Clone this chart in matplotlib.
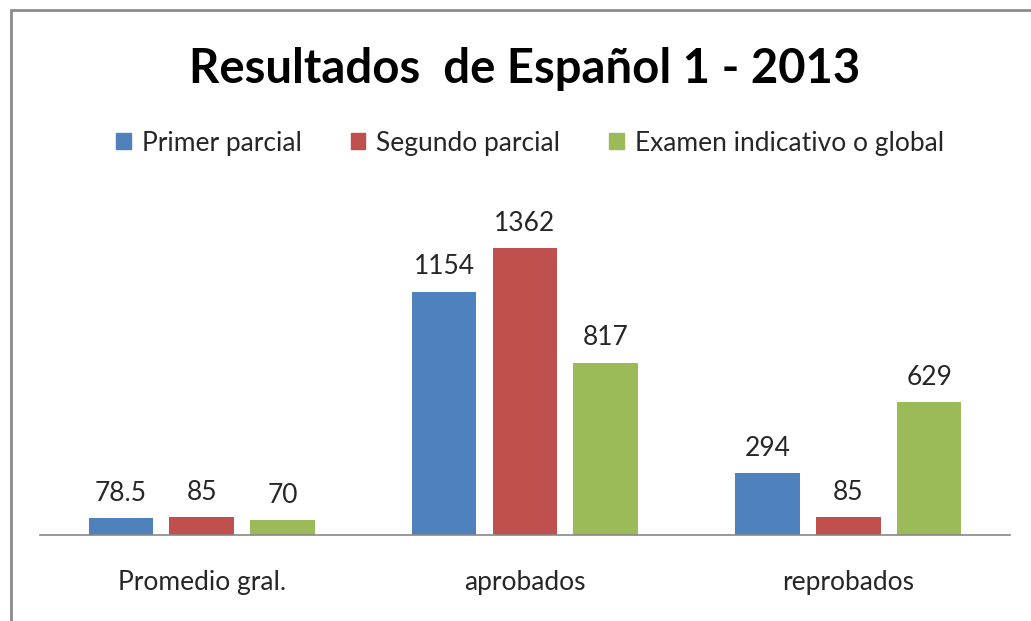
import matplotlib
matplotlib.use("Agg")
import matplotlib.pyplot as plt
import matplotlib.patches as mpatches
import numpy as np

categories = ["Promedio gral.", "aprobados", "reprobados"]
series_names = ["Primer parcial", "Segundo parcial", "Examen indicativo o global"]
primer = [78.5, 1154, 294]
segundo = [85, 1362, 85]
examen = [70, 817, 629]
labels_primer = ["78.5", "1154", "294"]
labels_segundo = ["85", "1362", "85"]
labels_examen = ["70", "817", "629"]

colors = ["#4F81BD", "#C0504D", "#9BBB59"]
plt.rcParams['font.family'] = ['Lato', 'DejaVu Sans']

W, H = 1031, 621
fig = plt.figure(figsize=(W / 100, H / 100), dpi=100)

# axes: x from 40 to 1010 px, baseline at y=535, top at y=200
ax = fig.add_axes([40 / W, (H - 535) / H, 970 / W, 335 / H])
x = np.arange(len(categories))
width = 0.2
offs = [-0.25, 0, 0.25]
all_series = [primer, segundo, examen]
all_labels = [labels_primer, labels_segundo, labels_examen]
for i, (vals, labs) in enumerate(zip(all_series, all_labels)):
    bars = ax.bar(x + offs[i], vals, width, color=colors[i], label=series_names[i])
    for b, lab in zip(bars, labs):
        ax.annotate(lab, (b.get_x() + b.get_width() / 2, b.get_height()),
                    xytext=(0, 9), textcoords="offset points",
                    ha="center", va="bottom", fontsize=19, color="#262626")

ax.set_xlim(-0.5, 2.5)
ax.set_ylim(0, 1590)
for s in ["top", "right", "left"]:
    ax.spines[s].set_visible(False)
ax.spines["bottom"].set_color("#888888")
ax.spines["bottom"].set_linewidth(1.2)
ax.set_yticks([])
ax.set_xticks(x)
ax.set_xticklabels(categories, fontsize=19, color="#262626")
ax.tick_params(axis="x", length=0, pad=25)

fig.text(525 / W, 1 - 69 / H, "Resultados  de Español 1 - 2013", ha="center", va="center",
         fontsize=34, fontweight="bold", color="black")

handles = [mpatches.Patch(color=c, label=n) for c, n in zip(colors, series_names)]
fig.legend(handles=handles, loc="center", bbox_to_anchor=(530 / W, 1 - 143 / H), ncol=3,
           frameon=False, fontsize=19, handlelength=0.55, handleheight=0.55,
           handletextpad=0.42, columnspacing=1.85, labelcolor="#262626")

# outer frame (left and top edges visible)
frame = mpatches.Rectangle((11 / W, -0.1), 1.2, (H - 10) / H + 0.1, transform=fig.transFigure,
                           fill=False, edgecolor="#8c8c8c", linewidth=2.0)
fig.patches.append(frame)

fig.savefig("out.png", dpi=100)
